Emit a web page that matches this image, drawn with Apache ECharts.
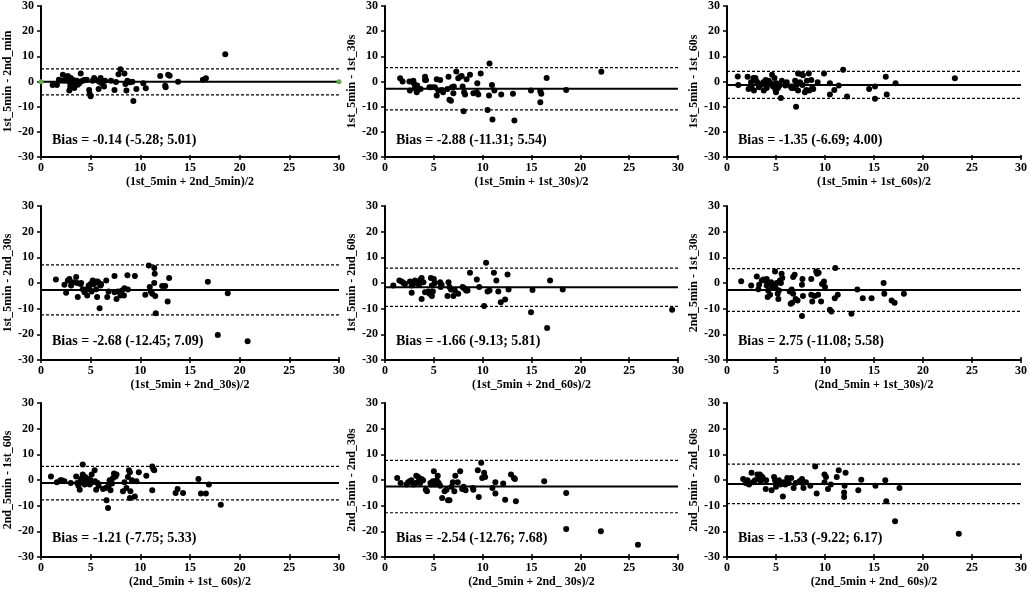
<!DOCTYPE html>
<html>
<head>
<meta charset="UTF-8">
<title>Bland-Altman</title>
<style>
	html, body { margin:0; padding:0; background:#fff; }
	#chart { width:1030px; height:593px; }
</style>
</head>
<body>
<div id="chart"></div>
<script src="https://cdn.jsdelivr.net/npm/echarts@6/dist/echarts.min.js"></script>
<script type="text/javascript">
	// points per panel: [mean, difference]
	var pts1 = [[1.17,-1.4],[1.6,-1.4],[1.8,0.7],[2.0,0.3],[2.2,2.7],[2.35,0.3],[2.5,0.9],[2.7,2.2],[2.8,-0.1],[2.85,-3.6],
		[2.95,-2.0],[3.0,1.4],[3.1,-0.7],[3.25,0.6],[3.35,-2.6],[3.45,-0.3],[3.6,0.3],[3.7,-1.3],[3.85,-0.7],[4.0,3.2],
		[4.0,0],[4.2,0.3],[4.35,0.6],[4.6,0.7],[4.85,-3.4],[4.9,-5.0],[5.0,-5.9],[5.2,0.3],[5.35,1.4],[5.5,0.6],
		[5.8,-3.0],[5.85,-0.1],[6.0,1.4],[6.1,-0.7],[6.35,-2.0],[6.45,0.3],[7.05,0.3],[7.4,-3.4],[7.55,-0.2],[7.8,2.9],
		[8.0,4.9],[8.4,3.2],[8.5,-1.0],[8.6,-3.6],[8.7,0.3],[8.95,-0.3],[9.2,-0.1],[9.3,-7.7],[9.6,-3.0],[10.3,-0.7],
		[10.55,-2.7],[12.0,2.2],[12.5,-1.7],[12.55,-2.3],[12.8,2.7],[12.95,2.3],[13.8,-0.1],[16.3,0.7],[16.6,1.3],[18.55,10.8]];
	var pts2 = [[1.55,1.25],[1.8,0],[2.5,0],[2.55,-3.6],[2.9,0.3],[2.95,-0.7],[3.05,-2.7],[3.25,-4.3],[3.3,-1.6],[3.65,-3.0],
		[4.1,1.9],[4.1,0.6],[4.2,0.6],[4.55,-2.3],[4.8,-2.3],[5.1,-2.3],[5.3,0.9],[5.3,-5.6],[5.45,-3.6],[5.65,0.6],
		[5.8,-3.4],[5.95,-4.3],[6.4,-3.0],[6.5,1.9],[6.6,-7.3],[6.75,-7.6],[6.85,-2.3],[7.0,-4.7],[7.05,-2.0],[7.3,4.0],
		[7.5,1.25],[7.7,1.9],[7.85,2.2],[7.95,-2.0],[8.05,-11.8],[8.1,-4.3],[8.2,-5.2],[8.35,0.9],[8.7,2.7],[9.05,-4.7],
		[9.4,-4.3],[9.45,-0.7],[9.55,-5.2],[9.8,3.2],[10.5,-11.3],[10.65,-5.6],[10.7,7.2],[10.95,-1.4],[11.0,-15.1],[11.2,-3.6],
		[11.9,-5.2],[13.1,-4.9],[13.25,-15.5],[14.95,-3.6],[15.9,-3.9],[15.9,-8.2],[16.0,-4.9],[16.55,1.4],[18.55,-3.4],[22.15,3.9]];
	var pts3 = [[1.1,2.0],[1.15,-1.4],[2.1,1.9],[2.2,-3.0],[2.45,-0.3],[2.5,-2.0],[2.7,1.4],[2.75,-3.6],[2.9,1.4],[3.05,-0.1],
		[3.15,-0.7],[3.25,-2.3],[3.5,-1.3],[3.7,-0.3],[3.75,-3.6],[3.95,0.6],[4.05,-2.6],[4.1,-1.4],[4.25,0.3],[4.5,-0.7],
		[4.6,2.7],[4.7,-2.0],[4.85,1.4],[4.95,-3.4],[5.0,-4.3],[5.05,-0.7],[5.2,-2.6],[5.35,-1.6],[5.5,-6.6],[5.6,0.3],
		[5.95,-1.6],[6.1,-0.3],[6.5,-2.0],[6.6,-2.6],[6.7,-2.0],[6.85,-2.6],[6.95,0.3],[7.05,-10.0],[7.1,-1.4],[7.25,-3.6],
		[7.25,3.2],[7.45,-0.3],[7.6,2.9],[7.7,-1.4],[7.75,2.5],[7.95,-4.3],[8.1,-3.4],[8.15,0.3],[8.35,3.2],[8.4,-3.6],
		[8.6,0.6],[8.7,-2.6],[8.8,-3.0],[9.25,-0.3],[9.9,3.2],[10.5,-0.7],[10.5,-5.2],[10.95,-3.4],[11.4,-1.6],[11.85,4.7],
		[12.25,-6.0],[14.5,-3.0],[15.1,-2.0],[15.1,-6.9],[16.2,1.9],[16.3,-5.2],[17.2,-0.7],[23.25,1.25]];
	var pts4 = [[1.5,1.4],[2.36,-0.7],[2.53,-3.8],[2.7,1.0],[2.86,1.6],[3.03,-1.0],[3.1,0.0],[3.3,0.3],[3.54,2.3],[3.64,0],
		[3.7,-5.5],[3.98,-0.4],[4.04,0],[4.2,-2.4],[4.38,-3.6],[4.55,-2.5],[4.65,-4.9],[4.8,-1.0],[4.9,-2.4],[5.0,-0.4],
		[5.1,-3.3],[5.2,1.0],[5.3,-0.4],[5.45,0.6],[5.55,-2.4],[5.65,-5.5],[5.7,0.6],[5.8,0],[5.9,-9.8],[6.0,-1.0],
		[6.05,-0.4],[6.57,1.0],[6.67,-5.5],[6.8,-3.3],[7.4,-3.6],[7.4,2.7],[7.6,-6.2],[7.75,-3.3],[8.0,-4.9],[8.15,-2.9],
		[8.35,-4.9],[8.4,-2.0],[8.7,3.0],[8.75,-2.5],[9.45,2.7],[10.5,-4.6],[10.85,6.8],[10.95,-1.6],[11.05,-3.3],[11.2,-4.2],
		[11.4,0],[11.4,5.8],[11.45,3.6],[11.5,-5.1],[11.55,-11.8],[12.2,-1.2],[12.5,-1.2],[12.75,-7.2],[12.9,1.9],[16.8,0.5],
		[17.8,-20.3],[18.8,-4.0],[20.8,-22.7]];
	var pts5 = [[0.85,-1.0],[1.47,1.0],[1.7,0.6],[1.9,0],[2.05,-0.4],[2.56,0.6],[2.73,-1.0],[2.73,-3.8],[2.97,0],[3.07,1.0],
		[3.25,0],[3.4,0.6],[3.5,-0.7],[3.65,1.4],[3.75,1.9],[3.75,-6.2],[3.93,0.3],[4.1,-3.6],[4.45,-3.3],[4.55,-4.2],
		[4.7,1.9],[4.8,-5.1],[4.8,-1.0],[4.9,-3.3],[5.0,1.6],[5.1,0],[5.65,0.3],[5.7,-1.6],[5.8,-0.7],[6.4,-5.1],
		[6.5,0.3],[6.6,-1.6],[6.75,-2.5],[7.0,-5.1],[7.15,-2.9],[7.5,-4.2],[7.95,-1.6],[8.1,-2.0],[8.3,-2.9],[8.45,-2.9],
		[8.7,4.0],[9.4,1.4],[9.65,-1.6],[10.15,-9.0],[10.35,7.9],[10.5,-3.3],[10.7,-2.9],[11.15,4.0],[11.4,1.0],[11.6,-3.3],
		[11.85,-7.5],[12.3,-6.4],[12.55,3.3],[12.65,-2.5],[14.95,-11.4],[15.1,-2.7],[16.6,-17.5],[16.9,1.0],[18.2,-2.5],[29.4,-10.4]];
	var pts6 = [[1.45,0.7],[2.47,-1.0],[3.04,2.5],[3.2,-2.4],[3.28,-0.7],[3.55,1.0],[3.72,1.4],[3.9,1.0],[4.05,1.6],[4.05,-1.0],
		[4.15,-5.5],[4.2,-2.9],[4.3,0],[4.4,-4.6],[4.5,0.3],[4.6,-1.6],[4.7,-0.7],[4.9,4.5],[4.97,-2.0],[5.07,0],
		[5.17,-4.2],[5.24,-6.2],[5.3,-2.9],[5.4,1.0],[5.5,0],[5.57,3.6],[5.64,1.9],[6.4,-3.3],[6.6,-2.5],[6.5,-8.1],
		[6.65,-7.7],[6.75,-4.2],[6.75,2.3],[6.9,3.2],[7.0,-6.2],[7.2,-6.8],[7.65,-0.7],[7.65,-12.9],[7.75,-5.1],[7.7,1.6],
		[8.6,1.6],[8.6,-4.6],[8.7,-7.2],[8.95,-5.1],[9.1,4.5],[9.2,3.6],[9.35,4.0],[9.3,-4.6],[9.6,-7.2],[9.7,-0.4],
		[9.9,0.6],[10.0,-1.6],[10.5,-10.4],[10.65,-11.1],[11.0,-5.9],[11.05,5.8],[11.3,-4.6],[12.7,-12.0],[13.3,-2.5],[13.85,-5.9],
		[14.75,-5.9],[15.98,0],[16.05,-4.2],[16.8,-6.8],[17.1,-7.7],[18.05,-4.2]];
	var pts7 = [[1.0,1.4],[1.6,-0.9],[1.95,-0.1],[2.1,-0.1],[2.36,-0.5],[3.0,-1.2],[3.54,1.4],[3.64,-1.2],[3.77,-2.2],[3.9,-3.8],
		[4.0,0.4],[4.1,-0.9],[4.2,2.1],[4.2,6.0],[4.3,-0.1],[4.4,-1.8],[4.45,1.2],[4.55,-0.5],[4.65,-1.2],[4.8,0.4],
		[4.9,-1.8],[5.0,-0.1],[5.1,2.1],[5.2,-0.9],[5.4,3.8],[5.45,-0.5],[5.55,-3.8],[5.7,-1.2],[5.8,-2.2],[6.25,-3.5],
		[6.5,-3.1],[6.6,-7.9],[6.75,-10.9],[6.8,-2.2],[6.9,-0.1],[7.0,-4.0],[7.15,-1.4],[7.25,0.8],[7.35,2.5],[7.5,1.4],
		[7.6,2.1],[8.25,-4.4],[8.4,-0.9],[8.6,-3.1],[8.75,1.2],[8.85,3.8],[8.95,3.0],[8.95,-7.0],[9.0,-4.4],[9.15,-0.1],
		[9.45,-6.4],[9.6,-0.5],[9.85,3.0],[10.6,1.7],[11.2,5.3],[11.3,4.3],[11.4,3.8],[11.2,-4.0],[13.55,-5.1],[13.75,-3.5],
		[14.3,-5.1],[15.85,0.4],[16.1,-5.3],[16.6,-5.3],[16.9,-1.8],[18.1,-9.6]];
	var pts8 = [[1.25,0.8],[1.6,-1.2],[2.2,-1.8],[2.37,-0.9],[2.55,-0.5],[2.7,-0.1],[2.9,-1.8],[3.15,-1.2],[3.2,1.7],[3.4,1.2],
		[3.5,-0.1],[3.6,-1.2],[3.73,0.4],[3.9,-0.1],[4.17,-3.8],[4.3,-4.4],[4.65,-1.2],[4.75,-1.8],[4.9,-0.5],[5.0,3.4],
		[5.1,-1.8],[5.2,-1.2],[5.3,-0.1],[5.4,1.7],[5.5,-1.2],[5.65,-2.2],[5.85,-7.0],[6.1,-4.4],[6.3,-3.8],[6.45,-7.9],
		[6.6,-7.9],[6.8,-2.6],[6.95,-0.9],[7.1,-4.4],[7.2,1.7],[7.45,-0.9],[7.7,3.4],[7.9,-3.5],[8.05,-2.6],[8.25,-4.0],
		[9.0,-3.1],[9.05,-3.8],[9.5,3.8],[9.6,-6.6],[9.85,6.7],[9.95,0.8],[10.15,2.8],[10.25,1.2],[11.0,-3.1],[11.3,-0.9],
		[11.3,-5.3],[12.1,-1.4],[12.3,-7.7],[12.9,2.1],[13.2,0.8],[13.3,0.4],[13.4,-8.3],[16.3,-0.5],[18.55,-5.1],[18.55,-19.1],
		[22.1,-20.0],[25.9,-25.2]];
	var pts9 = [[1.65,0.4],[1.9,-1.2],[2.1,-0.1],[2.25,-1.8],[2.5,2.8],[2.65,-0.9],[2.85,-0.1],[3.1,2.1],[3.2,0.4],[3.35,2.1],
		[3.45,-0.5],[3.55,1.4],[3.65,0.8],[3.95,-3.5],[4.0,-0.1],[4.55,-4.0],[4.8,1.2],[4.9,-0.1],[5.0,-2.6],[5.1,-1.2],
		[5.3,-0.1],[5.45,-1.8],[5.7,-6.4],[5.8,-0.9],[5.95,-1.8],[6.15,0.8],[6.3,-1.2],[6.55,0.8],[6.8,-3.1],[7.0,-1.2],
		[7.4,-0.5],[7.65,0.4],[7.7,-1.2],[7.8,-3.1],[8.05,-0.9],[8.5,-2.2],[9.0,5.3],[9.15,-5.3],[9.95,2.1],[9.95,-0.9],
		[10.1,1.2],[10.3,-3.5],[10.6,-1.8],[11.2,1.2],[11.4,3.8],[11.95,-4.9],[11.95,-6.6],[12.0,-2.2],[12.1,2.8],[13.4,-4.0],
		[13.7,0.1],[15.15,-2.2],[16.15,-0.1],[16.25,-8.3],[17.15,-16.1],[17.6,-3.1],[23.65,-20.9]];

	var panels = [pts1, pts2, pts3, pts4, pts5, pts6, pts7, pts8, pts9];
	var biasVals = [-0.14, -2.88, -1.35, -2.68, -1.66, -2.75, -1.21, -2.54, -1.53];
	var loaLow = [-5.28, -11.31, -6.69, -12.45, -9.13, -11.08, -7.75, -12.76, -9.22];
	var loaHigh = [5.01, 5.54, 4.00, 7.09, 5.81, 5.58, 5.33, 7.68, 6.17];
	var biasLabels = ['Bias = -0.14 (-5.28; 5.01)', 'Bias = -2.88 (-11.31; 5.54)', 'Bias = -1.35 (-6.69; 4.00)',
		'Bias = -2.68 (-12.45; 7.09)', 'Bias = -1.66 (-9.13; 5.81)', 'Bias = 2.75 (-11.08; 5.58)',
		'Bias = -1.21 (-7.75; 5.33)', 'Bias = -2.54 (-12.76; 7.68)', 'Bias = -1.53 (-9.22; 6.17)'];
	var yNames = ['1st_5min - 2nd_min', '1st_5min - 1st_30s', '1st_5min - 1st_60s',
		'1st_5min - 2nd_30s', '1st_5min - 2nd_60s', '2nd_5min - 1st_30s',
		'2nd_5min - 1st_60s', '2nd_5min - 2nd_30s', '2nd_5min - 2nd_60s'];
	var xNames = ['(1st_5min + 2nd_5min)/2', '(1st_5min + 1st_30s)/2', '(1st_5min + 1st_60s)/2',
		'(1st_5min + 2nd_30s)/2', '(1st_5min + 2nd_60s)/2', '(2nd_5min + 1st_30s)/2',
		'(2nd_5min + 1st_ 60s)/2', '(2nd_5min + 2nd_ 30s)/2', '(2nd_5min + 2nd_ 60s)/2'];
	var xMin = 0, xMax = 30, xStep = 5;
	var yMin = -30, yMax = 30, yStep = 10;

	var colLeft = [41, 385, 727], colWidth = [298, 293, 297];
	var rowTop = [5, 206, 403], rowHeight = [152, 154, 154];
	var serif = '"Liberation Serif", "Times New Roman", serif';
	var txt = {color:'#000', fontFamily:serif, fontWeight:'bold', fontSize:12};

	var chart = echarts.init(document.getElementById('chart'));
	var grids = [], xAxes = [], yAxes = [], series = [], graphics = [];

	for (var i = 0; i < 9; i++)
	{
		var r = Math.floor(i / 3), c = i % 3;
		grids.push({left:colLeft[c], top:rowTop[r], width:colWidth[c], height:rowHeight[r]});

		xAxes.push({
			gridIndex:i, type:'value', position:'bottom', min:xMin, max:xMax, interval:xStep,
			name:xNames[i], nameLocation:'middle', nameGap:19, nameTextStyle:txt,
			axisLine:{onZero:false, lineStyle:{color:'#000', width:2}},
			axisTick:{length:3, lineStyle:{color:'#000', width:1.5}},
			axisLabel:{margin:5, color:'#000', fontFamily:serif, fontWeight:'bold', fontSize:12},
			splitLine:{show:false}
		});
		// top axis pulled down onto the bottom line: upper half of the crossing ticks
		xAxes.push({
			gridIndex:i, type:'value', position:'top', offset:-rowHeight[r],
			min:xMin, max:xMax, interval:xStep,
			axisLine:{show:false, onZero:false},
			axisTick:{length:3, lineStyle:{color:'#000', width:1.5}},
			axisLabel:{show:false}, splitLine:{show:false}
		});
		yAxes.push({
			gridIndex:i, type:'value', min:yMin, max:yMax, interval:yStep,
			name:yNames[i], nameLocation:'middle', nameGap:27, nameTextStyle:txt,
			axisLine:{onZero:false, lineStyle:{color:'#000', width:2}},
			axisTick:{length:4, lineStyle:{color:'#000', width:1.5}},
			axisLabel:{margin:7, color:'#000', fontFamily:serif, fontWeight:'bold', fontSize:12},
			splitLine:{show:false}
		});

		var xi = 2 * i;
		series.push({
			type:'line', xAxisIndex:xi, yAxisIndex:i, silent:true, z:1,
			data:[[xMin, loaHigh[i]], [xMax, loaHigh[i]]], symbol:'none',
			lineStyle:{color:'#000', width:1.2, type:[3, 2]}
		});
		series.push({
			type:'line', xAxisIndex:xi, yAxisIndex:i, silent:true, z:1,
			data:[[xMin, loaLow[i]], [xMax, loaLow[i]]], symbol:'none',
			lineStyle:{color:'#000', width:1.2, type:[3, 2]}
		});
		series.push({
			type:'line', xAxisIndex:xi, yAxisIndex:i, silent:true, z:2,
			data:[[xMin, biasVals[i]], [xMax, biasVals[i]]],
			symbol:i === 0 ? 'circle' : 'none', symbolSize:5,
			itemStyle:{color:'#5db14a'},
			lineStyle:{color:'#000', width:2}
		});
		series.push({
			type:'scatter', xAxisIndex:xi, yAxisIndex:i, z:3,
			data:panels[i], symbolSize:6,
			itemStyle:{color:'#000', opacity:1}
		});

		graphics.push({
			type:'text', left:colLeft[c] + 11, top:rowTop[r] + 128,
			style:{text:biasLabels[i], fill:'#000', fontFamily:serif, fontWeight:'bold', fontSize:14}
		});
	}

	chart.setOption({
		animation:false,
		grid:grids,
		xAxis:xAxes,
		yAxis:yAxes,
		series:series,
		graphic:graphics
	});
</script>
</body>
</html>
